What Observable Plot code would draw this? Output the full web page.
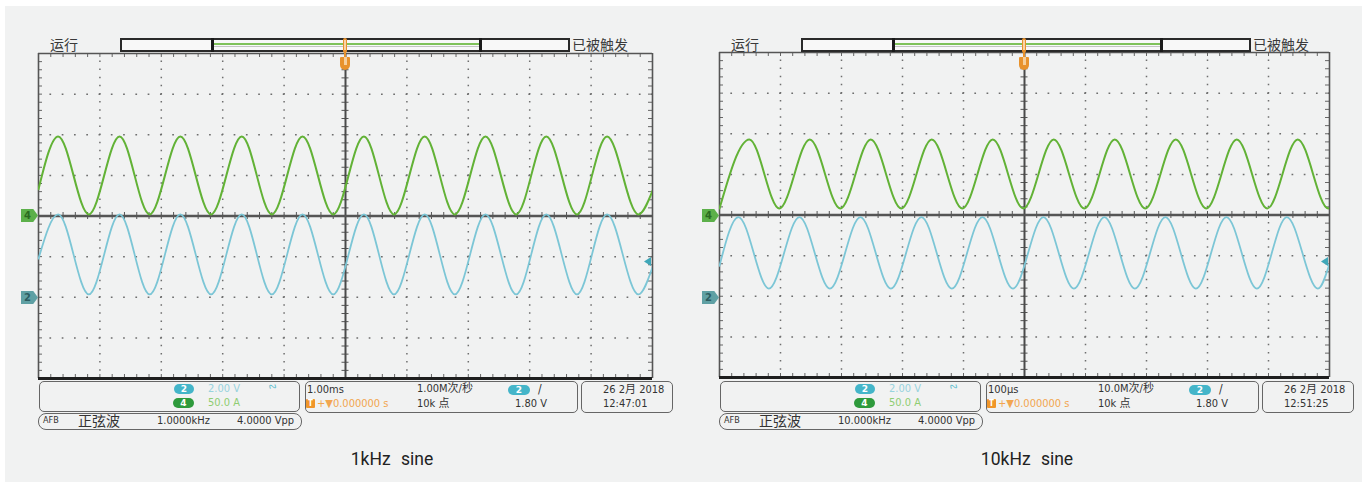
<!DOCTYPE html>
<html><head><meta charset="utf-8">
<script src="https://cdn.jsdelivr.net/npm/d3@7"></script>
<script src="https://cdn.jsdelivr.net/npm/@observablehq/plot@0.6"></script>
<style>
body{margin:0;background:#fff;width:1367px;height:484px;overflow:hidden;position:relative;
  font-family:"Liberation Sans Narrow","DejaVu Sans Condensed","Noto Sans CJK SC",sans-serif;}
#bg{position:absolute;left:5px;top:6px;width:1357px;height:476px;background:#f1f2f2}
.a{position:absolute;white-space:nowrap;line-height:1;box-sizing:border-box}
.s{font-size:11px;color:#333}
.cjk{font-family:"Noto Sans CJK SC",sans-serif}
.cap{font-family:Roboto,"Noto Sans",sans-serif;font-size:17.5px;color:#222;word-spacing:6px;text-align:center;width:300px}
svg{position:absolute;top:0}
</style></head>
<body><div id="bg"></div>
<script>
// ---------- data ----------
// Channel settings shown on screen
const ch2VoltsPerDiv = 2.00, ch2GroundDiv = -2;   // cyan, CH2, 2.00 V/div
const ch4AmpsPerDiv = 50.0,  ch4GroundDiv = 0;    // green, CH4, 50.0 A/div

// 1 kHz sine — time in ms (1.00 ms/div); edges, then alternating peaks / troughs
const t1k = [-5, -4.68, -4.18, -3.68, -3.19, -2.69, -2.19, -1.69, -1.20, -0.70, -0.20,
             0.30, 0.79, 1.29, 1.78, 2.28, 2.78, 3.27, 3.77, 4.26, 4.77, 5];
const ch4Amps1k = [33, 98, 2, 98, 2, 98, 2, 98, 2, 98, 2, 98, 2, 98, 2, 98, 2, 98, 2, 98, 2, 31];
const ch2Volts1k = [1.9, 4.08, 0.14, 4.08, 0.14, 4.08, 0.14, 4.08, 0.14, 4.08, 0.14,
                    4.08, 0.14, 4.08, 0.14, 4.08, 0.14, 4.08, 0.14, 4.08, 0.14, 1.48];

// 10 kHz sine — time in µs (100 µs/div)
const t10kCh4 = [-500, -451, -402, -352, -302, -252, -202, -152, -102, -52, -2,
                 48, 98, 148, 198, 248, 298, 348, 398, 448, 498, 500];
const ch4Amps10k = [8, 93, 8, 93, 8, 93, 8, 93, 8, 93, 8, 93, 8, 93, 8, 93, 8, 93, 8, 93, 8, 9];
const t10kCh2 = [-500, -469, -419, -369, -319, -269, -219, -169, -119, -69, -19,
                 31, 81, 131, 181, 231, 281, 331, 381, 430, 481, 500];
const ch2Volts10k = [1.5, 3.9, 0.38, 3.9, 0.38, 3.9, 0.38, 3.9, 0.38, 3.9, 0.38,
                     3.9, 0.38, 3.9, 0.38, 3.9, 0.38, 3.9, 0.38, 3.9, 0.38, 1.6];

// on-screen labels
const timebaseLabels = ["1.00ms", "100μs"];
const sampleRateLabels = ["1.00M次/秒", "10.0M次/秒"];
const afbFreqLabels = ["1.0000kHz", "10.000kHz"];
const dateLabels = ["26 2月 2018", "26 2月 2018"];
const clockLabels = ["12:47:01", "12:51:25"];
const captions = ["1kHz sine", "10kHz sine"];
const ch2Label = "2.00 V", ch4Label = "50.0 A", trigLevelLabel = "1.80 V",
      pointsLabel = "10k 点", trigPosLabel = "+▼0.000000 s", afbAmpLabel = "4.0000 Vpp",
      afbWaveLabel = "正弦波", runLabel = "运行", trigStateLabel = "已被触发";

// ---------- layout ----------
const panels = [
  {svgLeft: 0,   off: 0,   W: 683, H: 484, ml: 38, mr: 31, mt: 53, mb: 106, xDomain: [-5, 5],
   tG: t1k, g: ch4Amps1k, tB: t1k, b: ch2Volts1k},
  {svgLeft: 683, off: 681, W: 683, H: 484, ml: 36, mr: 37, mt: 52, mb: 107, xDomain: [-500, 500],
   tG: t10kCh4, g: ch4Amps10k, tB: t10kCh2, b: ch2Volts10k}
];

function drawPanel(p) {
  const [xa, xb] = p.xDomain;
  const u = (xb - xa) / 10;
  const fw = p.W - p.ml - p.mr, fh = p.H - p.mt - p.mb;
  const dw = fw / 10, dh = fh / 8;
  const pxX = u / dw, pxY = 1 / dh;
  const majorX = d3.range(-4, 5).filter(k => k !== 0).map(k => k * u);
  const majorY = d3.range(-3, 4).filter(k => k !== 0);
  const minorX = d3.range(-24, 25).map(i => i * u / 5);
  const minorY = d3.range(-19, 20).map(i => i / 5);
  const green = p.tG.map((t, i) => ({t, v: p.g[i] / ch4AmpsPerDiv + ch4GroundDiv}));
  const blue = p.tB.map((t, i) => ({t, v: p.b[i] / ch2VoltsPerDiv + ch2GroundDiv}));
  const chart = Plot.plot({
    width: p.W, height: p.H,
    marginLeft: p.ml, marginRight: p.mr, marginTop: p.mt, marginBottom: p.mb,
    x: {domain: p.xDomain, axis: null},
    y: {domain: [-4, 4], axis: null},
    style: {background: "transparent"},
    marks: [
      Plot.ruleX(majorX, {stroke: "#6e6e6e", strokeWidth: 1.5, strokeDasharray: `1.5 ${dh / 5 - 1.5}`, strokeDashoffset: 0.75}),
      Plot.ruleY(majorY, {stroke: "#6e6e6e", strokeWidth: 1.5, strokeDasharray: `1.7 ${dw / 5 - 1.7}`, strokeDashoffset: 0.85}),
      Plot.ruleX(minorX, {y1: -3.5 * pxY, y2: 3.5 * pxY, stroke: "#555", strokeWidth: 1}),
      Plot.ruleY(minorY, {x1: -3.5 * pxX, x2: 3.5 * pxX, stroke: "#555", strokeWidth: 1}),
      Plot.ruleX(minorX, {y1: 4, y2: 4 - 4 * pxY, stroke: "#666"}),
      Plot.ruleX(minorX, {y1: -4, y2: -4 + 4 * pxY, stroke: "#666"}),
      Plot.ruleY(minorY, {x1: xa, x2: xa + 4 * pxX, stroke: "#666"}),
      Plot.ruleY(minorY, {x1: xb, x2: xb - 4 * pxX, stroke: "#666"}),
      Plot.ruleX([0], {stroke: "#4a4a4a", strokeWidth: 2}),
      Plot.ruleY([0], {stroke: "#555", strokeWidth: 2.6}),
      Plot.ruleX([xa, xb], {stroke: "#555", strokeWidth: 1.6}),
      Plot.ruleY([4], {stroke: "#555", strokeWidth: 1.6}),
      Plot.ruleY([-4], {stroke: "#1e1e1e", strokeWidth: 3.2}),
      Plot.line(green, {x: "t", y: "v", stroke: "#62b236", strokeWidth: 2, curve: "monotone-x", clip: true}),
      Plot.line(blue, {x: "t", y: "v", stroke: "#7cc6d6", strokeWidth: 1.8, curve: "monotone-x", clip: true})
    ]
  });
  chart.style.left = p.svgLeft + "px";
  document.body.appendChild(chart);
  return {cx: p.svgLeft + p.ml + fw / 2, right: p.svgLeft + p.W - p.mr, top: p.mt};
}

function add(x, y, w, h, style, text, cls) {
  const d = document.createElement("div");
  d.className = "a " + (cls || "");
  d.style.left = x + "px"; d.style.top = y + "px";
  if (w != null) d.style.width = w + "px";
  if (h != null) d.style.height = h + "px";
  if (style) d.style.cssText += style;
  if (text != null) d.textContent = text;
  document.body.appendChild(d);
  return d;
}
function pill(x, y, w, h, bg, t) {
  add(x, y, w, h, `background:${bg};border-radius:5px;color:#fff;font-size:9px;text-align:center;line-height:${h}px;font-family:'DejaVu Sans',sans-serif;font-weight:bold`, t);
}

panels.forEach((p, i) => {
  const f = drawPanel(p);
  const o = p.off;
  const bd = "border:1.6px solid #666;border-radius:5px;";
  // top status bar
  add(50 + o, 37, null, null, "font-size:14px;color:#3a3a3a", runLabel, "cjk");
  add(120 + o, 38, 450, 14, "border:2px solid #2a2a2a;background:#f8f8f8");
  add(211 + o, 38, 2.5, 14, "background:#1a1a1a");
  add(479 + o, 38, 2.5, 14, "background:#1a1a1a");
  add(213.5 + o, 43, 265.5, 1.6, "background:#7fc25a");
  add(213.5 + o, 46.2, 265.5, 1, "background:#c4c4c4");
  add(572 + o, 37, null, null, "font-size:14px;color:#3a3a3a", trigStateLabel, "cjk");
  // trigger position marker
  const cx = f.cx;
  add(cx - 2, 38, 4, 15, "background:#e8922c;border-radius:2px");
  add(cx - 0.7, 40, 1.4, 10, "background:#f7d4a8");
  add(cx - 0.8, 52, 1.6, 6, "background:#e8922c");
  add(cx - 5, 57, 10, 13, "background:#e8922c;border-radius:1px 1px 5px 5px");
  add(cx - 1.5, 57, 3, 8, "background:#f6cf9c");
  // channel ground markers
  add(21 + o, 209, 17, 13, "background:#5cb04a;clip-path:polygon(0 0,72% 0,100% 50%,72% 100%,0 100%);color:#2a6a20;font-size:10px;font-weight:bold;line-height:13px;padding-left:3px;font-family:'DejaVu Sans',sans-serif", "4");
  add(21 + o, 291, 17, 13, "background:#5fa0a4;clip-path:polygon(0 0,72% 0,100% 50%,72% 100%,0 100%);color:#2c5c60;font-size:10px;font-weight:bold;line-height:13px;padding-left:3px;font-family:'DejaVu Sans',sans-serif", "2");
  // trigger level marker
  add(f.right - 8, 257, 7, 9, "background:#3fa7b8;clip-path:polygon(0 50%,100% 0,100% 100%)");
  // bottom boxes
  add(39 + o, 381, 261, 31, bd);
  pill(174 + o, 384, 20, 10, "#44b5c9", "2");
  add(208 + o, 383, null, null, "color:#98d3de", ch2Label, "s");
  add(268 + o, 381, null, null, "color:#5bbccd;font-size:11px;font-family:'DejaVu Sans',sans-serif;transform:rotate(-35deg)", "∿");
  pill(173 + o, 397.5, 21, 10, "#2e9a3c", "4");
  add(208 + o, 397, null, null, "color:#8fcd72", ch4Label, "s");
  add(305 + o, 381, 273, 32, bd);
  add(307 + o, 384, null, null, "", timebaseLabels[i], "s");
  add(306 + o, 399, 9, 9, "background:#f0962a;border-radius:1px;color:#fff;font-size:8px;text-align:center;line-height:9px;font-weight:bold", "T");
  add(317 + o, 398, null, null, "color:#f2a650", trigPosLabel, "s");
  add(417 + o, 383, null, null, "", sampleRateLabels[i], "s");
  add(417 + o, 398, null, null, "", pointsLabel, "s");
  pill(508 + o, 385, 22, 10, "#44b5c9", "2");
  add(538 + o, 383, null, null, "font-size:12px", "/", "s");
  add(515 + o, 398, null, null, "", trigLevelLabel, "s");
  add(581 + o, 381, 92, 32, bd);
  add(603 + o, 384, null, null, "", dateLabels[i], "s");
  add(603 + o, 398, null, null, "", clockLabels[i], "s");
  add(38 + o, 412.5, 264, 17, "border:1.6px solid #666;border-radius:8px");
  add(43 + o, 416, null, null, "font-size:9px;color:#333", "AFB");
  add(78 + o, 413, null, null, "font-size:14px;color:#333", afbWaveLabel, "cjk");
  add(157 + o, 415, null, null, "", afbFreqLabels[i], "s");
  add(237 + o, 415, null, null, "", afbAmpLabel, "s");
  // caption
  add([242, 877][i], 448, null, 22, "line-height:22px", captions[i], "cap");
});
</script>
</body></html>
